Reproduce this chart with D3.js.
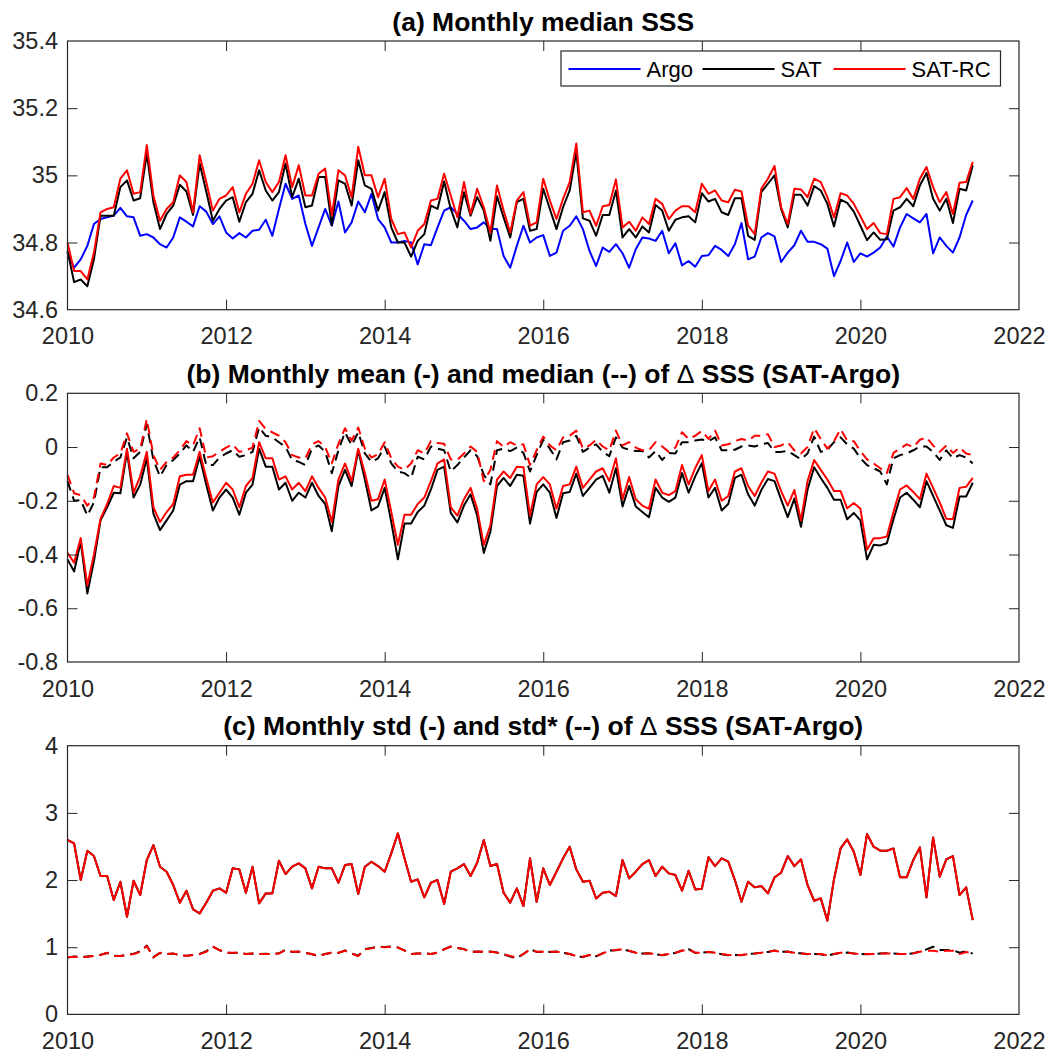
<!DOCTYPE html>
<html>
<head>
<meta charset="utf-8">
<script src="https://cdn.jsdelivr.net/npm/d3@7"></script>
<style>
  html, body { margin: 0; padding: 0; background: #fff; }
  svg { display: block; font-family: "Liberation Sans", Arial, Helvetica, sans-serif; }
</style>
</head>
<body>
<svg id="chart" width="1051" height="1055"></svg>
<script>
// ---------------------------------------------------------------------------
// Data: monthly values, Jan 2010 .. Jun 2021
// ---------------------------------------------------------------------------

const START_YEAR = 2010;

// (a) monthly median SSS
const argo = [
  34.77, 34.725, 34.75, 34.79, 34.855, 34.87, 34.875, 34.88, 34.903, 34.878, 34.875, 34.82,
  34.825, 34.815, 34.795, 34.785, 34.815, 34.875, 34.862, 34.848, 34.908, 34.892, 34.855, 34.878,
  34.83, 34.812, 34.828, 34.815, 34.835, 34.838, 34.868, 34.82, 34.90, 34.975, 34.93, 34.94,
  34.855, 34.79, 34.845, 34.90, 34.85, 34.922, 34.83, 34.86, 34.922, 34.89, 34.945, 34.87,
  34.845, 34.80, 34.80, 34.805, 34.80, 34.735, 34.795, 34.792, 34.845, 34.895, 34.905, 34.885,
  34.865, 34.84, 34.845, 34.86, 34.84, 34.84, 34.76, 34.725, 34.79, 34.85, 34.80, 34.815,
  34.822, 34.76, 34.77, 34.835, 34.85, 34.878, 34.84, 34.775, 34.73, 34.785, 34.772, 34.795,
  34.768, 34.725, 34.78, 34.815, 34.812, 34.805, 34.835, 34.768, 34.798, 34.732, 34.745, 34.728,
  34.76, 34.762, 34.79, 34.778, 34.76, 34.795, 34.858, 34.75, 34.758, 34.815, 34.828, 34.818,
  34.742, 34.77, 34.792, 34.835, 34.802, 34.802, 34.795, 34.782, 34.70, 34.745, 34.80, 34.742,
  34.768, 34.758, 34.77, 34.785, 34.818, 34.788, 34.845, 34.885, 34.872, 34.86, 34.885, 34.768,
  34.815, 34.79, 34.77, 34.815, 34.882, 34.925
];
const sat = [
  34.775, 34.682, 34.69, 34.67, 34.75, 34.88, 34.88, 34.88, 34.965, 34.985, 34.925, 34.932,
  35.065, 34.92, 34.84, 34.885, 34.91, 34.972, 34.952, 34.882, 35.035, 34.952, 34.865, 34.90,
  34.925, 34.935, 34.862, 34.92, 34.945, 35.015, 34.955, 34.925, 34.95, 35.035, 34.935, 34.99,
  34.905, 34.91, 34.995, 34.995, 34.852, 34.985, 34.975, 34.91, 35.045, 34.97, 34.96, 34.895,
  34.95, 34.845, 34.80, 34.80, 34.758, 34.805, 34.825, 34.91, 34.90, 34.982, 34.90, 34.845,
  34.95, 34.88, 34.935, 34.895, 34.805, 34.938, 34.875, 34.815, 34.92, 34.93, 34.835, 34.84,
  34.96, 34.90, 34.84, 34.905, 34.955, 35.07, 34.872, 34.865, 34.82, 34.882, 34.882, 34.955,
  34.815, 34.84, 34.815, 34.848, 34.83, 34.912, 34.895, 34.835, 34.868, 34.875, 34.878, 34.86,
  34.947, 34.922, 34.93, 34.89, 34.882, 34.932, 34.932, 34.82, 34.808, 34.95, 34.975, 35.00,
  34.90, 34.845, 34.942, 34.942, 34.91, 34.968, 34.955, 34.915, 34.848, 34.928, 34.918, 34.892,
  34.85, 34.807, 34.83, 34.808, 34.81, 34.895, 34.905, 34.93, 34.908, 34.97, 35.007, 34.93,
  34.895, 34.93, 34.858, 34.96, 34.955, 35.03
];
const satRC = [
  34.80, 34.715, 34.715, 34.69, 34.77, 34.89, 34.90, 34.905, 34.99, 35.015, 34.945, 34.95,
  35.09, 34.94, 34.865, 34.90, 34.92, 35.00, 34.98, 34.89, 35.06, 34.98, 34.895, 34.93,
  34.94, 34.965, 34.89, 34.945, 34.975, 35.045, 34.98, 34.95, 34.98, 35.06, 34.965, 35.03,
  34.94, 34.94, 35.005, 35.02, 34.88, 35.015, 35.00, 34.935, 35.085, 35.00, 35.00, 34.935,
  34.99, 34.87, 34.825, 34.83, 34.785, 34.835, 34.855, 34.925, 34.93, 35.005, 34.94, 34.875,
  34.98, 34.885, 34.96, 34.905, 34.83, 34.97, 34.895, 34.83, 34.925, 34.95, 34.85, 34.86,
  34.99, 34.925, 34.87, 34.93, 34.98, 35.095, 34.89, 34.895, 34.85, 34.908, 34.912, 34.988,
  34.845, 34.862, 34.835, 34.875, 34.855, 34.93, 34.915, 34.87, 34.895, 34.908, 34.908, 34.89,
  34.975, 34.945, 34.955, 34.925, 34.92, 34.957, 34.952, 34.85, 34.825, 34.96, 34.99, 35.028,
  34.905, 34.855, 34.96, 34.958, 34.935, 34.99, 34.98, 34.935, 34.875, 34.947, 34.94, 34.915,
  34.878, 34.84, 34.858, 34.828, 34.825, 34.93, 34.935, 34.962, 34.93, 34.99, 35.025, 34.965,
  34.92, 34.95, 34.885, 34.978, 34.98, 35.04
];

// (b) monthly mean / median of delta SSS
const satMean = [
  -0.418, -0.463, -0.352, -0.545, -0.424, -0.273, -0.224, -0.170, -0.172, -0.018, -0.188, -0.140,
  -0.042, -0.248, -0.309, -0.273, -0.236, -0.140, -0.127, -0.127, -0.036, -0.140, -0.236, -0.188,
  -0.158, -0.188, -0.252, -0.170, -0.140, -0.006, -0.073, -0.073, -0.158, -0.133, -0.200, -0.170,
  -0.188, -0.133, -0.182, -0.212, -0.313, -0.145, -0.085, -0.145, -0.012, -0.121, -0.236, -0.221,
  -0.152, -0.279, -0.418, -0.285, -0.285, -0.242, -0.218, -0.158, -0.085, -0.073, -0.245, -0.281,
  -0.218, -0.176, -0.255, -0.394, -0.315, -0.145, -0.115, -0.145, -0.103, -0.107, -0.285, -0.167,
  -0.139, -0.170, -0.264, -0.172, -0.167, -0.099, -0.182, -0.152, -0.121, -0.107, -0.170, -0.079,
  -0.221, -0.145, -0.221, -0.242, -0.261, -0.152, -0.188, -0.204, -0.188, -0.097, -0.170, -0.109,
  -0.060, -0.188, -0.152, -0.236, -0.212, -0.115, -0.103, -0.176, -0.218, -0.160, -0.119, -0.127,
  -0.196, -0.261, -0.192, -0.297, -0.158, -0.075, -0.115, -0.152, -0.196, -0.196, -0.269, -0.245,
  -0.273, -0.418, -0.364, -0.366, -0.358, -0.269, -0.188, -0.170, -0.196, -0.224, -0.127, -0.182,
  -0.236, -0.291, -0.301, -0.184, -0.184, -0.133
];
const rcMean = [
  -0.394, -0.430, -0.339, -0.515, -0.400, -0.267, -0.212, -0.145, -0.152, -0.006, -0.170, -0.109,
  -0.018, -0.224, -0.279, -0.242, -0.212, -0.109, -0.103, -0.103, -0.018, -0.115, -0.206, -0.170,
  -0.133, -0.158, -0.224, -0.145, -0.115, 0.018, -0.042, -0.042, -0.121, -0.109, -0.158, -0.133,
  -0.164, -0.109, -0.152, -0.188, -0.279, -0.121, -0.061, -0.127, -0.006, -0.097, -0.200, -0.194,
  -0.121, -0.242, -0.364, -0.252, -0.252, -0.212, -0.188, -0.127, -0.061, -0.046, -0.224, -0.255,
  -0.194, -0.152, -0.230, -0.364, -0.291, -0.121, -0.091, -0.115, -0.073, -0.075, -0.255, -0.139,
  -0.112, -0.139, -0.230, -0.145, -0.139, -0.073, -0.152, -0.121, -0.091, -0.079, -0.127, -0.042,
  -0.194, -0.112, -0.194, -0.218, -0.230, -0.121, -0.170, -0.179, -0.164, -0.067, -0.139, -0.078,
  -0.030, -0.164, -0.121, -0.200, -0.182, -0.091, -0.079, -0.145, -0.182, -0.133, -0.091, -0.099,
  -0.164, -0.218, -0.160, -0.273, -0.127, -0.048, -0.085, -0.121, -0.164, -0.164, -0.228, -0.208,
  -0.230, -0.382, -0.339, -0.339, -0.333, -0.242, -0.158, -0.143, -0.167, -0.194, -0.099, -0.152,
  -0.206, -0.267, -0.269, -0.152, -0.148, -0.115
];
const satMedian = [
  -0.127, -0.200, -0.197, -0.255, -0.206, -0.075, -0.075, -0.055, -0.039, 0.036, -0.042, -0.018,
  0.085, -0.048, -0.109, -0.067, -0.048, -0.024, 0.006, -0.018, 0.036, -0.067, -0.067, -0.039,
  -0.024, -0.012, -0.036, -0.030, -0.018, 0.073, 0.042, 0.036, 0.018, 0.000, -0.048, -0.055,
  -0.067, -0.006, 0.006, -0.018, -0.097, -0.012, 0.055, 0.006, 0.055, -0.024, -0.055, -0.042,
  0.002, -0.061, -0.091, -0.097, -0.115, -0.036, -0.046, 0.002, -0.006, -0.012, -0.091, -0.067,
  -0.039, -0.012, -0.034, -0.103, -0.139, -0.012, -0.006, -0.015, -0.002, -0.022, -0.091, -0.030,
  0.027, -0.006, -0.046, 0.018, 0.024, 0.042, -0.018, -0.002, 0.010, -0.018, -0.034, 0.036,
  -0.002, -0.010, -0.015, -0.015, -0.039, -0.015, -0.048, -0.022, -0.024, 0.018, 0.018, 0.024,
  0.028, 0.022, 0.036, -0.012, -0.012, -0.010, 0.002, 0.006, 0.002, 0.010, 0.015, -0.018,
  -0.018, -0.015, -0.030, -0.046, -0.024, 0.039, -0.018, -0.010, 0.018, 0.036, 0.010, -0.006,
  -0.042, -0.067, -0.079, -0.091, -0.139, -0.042, -0.030, -0.024, -0.012, 0.002, 0.002, -0.018,
  -0.048, -0.012, -0.042, -0.030, -0.039, -0.061
];
const rcMedian = [
  -0.103, -0.172, -0.179, -0.218, -0.188, -0.061, -0.067, -0.039, -0.024, 0.051, -0.018, -0.006,
  0.103, -0.030, -0.085, -0.055, -0.039, -0.012, 0.022, 0.006, 0.070, -0.039, -0.034, -0.018,
  -0.002, 0.010, -0.018, -0.012, -0.002, 0.097, 0.067, 0.055, 0.042, 0.018, -0.030, -0.039,
  -0.042, 0.010, 0.022, 0.000, -0.061, 0.012, 0.070, 0.024, 0.073, -0.006, -0.039, -0.027,
  0.018, -0.042, -0.073, -0.085, -0.061, -0.012, -0.024, 0.022, 0.015, 0.012, -0.046, -0.048,
  -0.024, 0.002, -0.018, -0.127, -0.085, 0.022, 0.000, 0.018, 0.006, 0.010, -0.067, -0.012,
  0.039, 0.006, -0.012, 0.036, 0.042, 0.061, -0.006, 0.006, 0.027, 0.002, -0.012, 0.061,
  0.006, 0.018, -0.002, -0.012, -0.012, 0.018, 0.002, -0.018, -0.002, 0.055, 0.030, 0.042,
  0.060, 0.030, 0.061, 0.006, 0.010, 0.022, 0.030, 0.024, 0.042, 0.042, 0.048, 0.000,
  0.006, 0.018, -0.012, -0.024, 0.000, 0.070, 0.030, -0.006, 0.022, 0.067, 0.024, 0.022,
  -0.015, -0.046, -0.061, -0.079, -0.097, -0.022, -0.006, 0.010, 0.000, 0.027, 0.036, 0.006,
  -0.018, 0.006, -0.022, -0.002, -0.024, -0.030
];

// (c) monthly std / std* of delta SSS
const rcStd = [
  2.596, 2.546, 2.000, 2.437, 2.357, 2.060, 2.060, 1.702, 1.975, 1.454, 1.990, 1.777,
  2.298, 2.521, 2.199, 2.124, 1.926, 1.663, 1.841, 1.563, 1.504, 1.663, 1.841, 1.876,
  1.811, 2.174, 2.159, 1.811, 2.199, 1.653, 1.801, 1.801, 2.288, 2.089, 2.199, 2.248,
  2.174, 1.876, 2.199, 2.174, 2.174, 1.960, 2.223, 2.238, 1.792, 2.199, 2.273, 2.208,
  2.124, 2.397, 2.695, 2.323, 1.975, 2.010, 1.742, 1.960, 2.000, 1.643, 2.124, 2.174,
  2.238, 2.060, 2.258, 2.596, 2.208, 2.238, 1.811, 1.663, 1.876, 1.613, 2.323, 1.677,
  2.174, 1.926, 2.124, 2.323, 2.496, 2.159, 1.975, 1.990, 1.727, 1.811, 1.826, 1.762,
  2.298, 2.025, 2.124, 2.238, 2.298, 2.060, 2.199, 2.099, 2.074, 1.841, 2.139, 1.861,
  1.870, 2.340, 2.208, 2.323, 2.273, 2.000, 1.677, 1.975, 1.891, 1.911, 1.801, 2.040,
  2.109, 2.357, 2.208, 2.308, 1.926, 1.692, 1.727, 1.395, 2.010, 2.471, 2.605, 2.422,
  2.074, 2.685, 2.496, 2.437, 2.437, 2.471, 2.040, 2.040, 2.298, 2.486, 1.742, 2.635,
  2.050, 2.308, 2.357, 1.777, 1.891, 1.404
];
// SAT std is the same as SAT-RC std (a bias shift does not change it)
const satStd = rcStd;
const rcStdStar = [
  0.849, 0.859, 0.849, 0.859, 0.869, 0.883, 0.918, 0.868, 0.868, 0.883, 0.898, 0.933,
  1.017, 0.849, 0.918, 0.898, 0.908, 0.883, 0.868, 0.883, 0.898, 0.933, 1.007, 0.958,
  0.918, 0.918, 0.918, 0.898, 0.908, 0.898, 0.898, 0.898, 0.908, 0.958, 0.933, 0.933,
  0.918, 0.898, 0.868, 0.898, 0.918, 0.918, 0.948, 0.908, 0.868, 0.968, 0.983, 1.007,
  1.000, 1.007, 0.998, 0.948, 0.898, 0.908, 0.908, 0.898, 0.918, 0.968, 1.007, 0.993,
  0.968, 0.933, 0.933, 0.933, 0.933, 0.923, 0.898, 0.868, 0.849, 0.898, 0.968, 0.933,
  0.933, 0.933, 0.933, 0.918, 0.898, 0.868, 0.859, 0.883, 0.868, 0.908, 0.948, 0.958,
  0.968, 0.948, 0.918, 0.908, 0.908, 0.898, 0.883, 0.898, 0.918, 0.948, 0.968, 0.918,
  0.918, 0.933, 0.918, 0.898, 0.883, 0.883, 0.883, 0.898, 0.908, 0.918, 0.933, 0.948,
  0.933, 0.933, 0.918, 0.908, 0.898, 0.898, 0.898, 0.878, 0.898, 0.918, 0.918, 0.908,
  0.898, 0.898, 0.898, 0.908, 0.908, 0.908, 0.898, 0.898, 0.908, 0.933, 0.948, 0.948,
  0.933, 0.948, 0.948, 0.898, 0.930, 0.908
];
const satStdStar = [
  0.845, 0.862, 0.852, 0.861, 0.872, 0.888, 0.915, 0.872, 0.870, 0.886, 0.902, 0.940,
  1.025, 0.852, 0.915, 0.900, 0.905, 0.886, 0.872, 0.886, 0.902, 0.940, 1.012, 0.955,
  0.920, 0.915, 0.920, 0.900, 0.905, 0.900, 0.902, 0.900, 0.910, 0.962, 0.930, 0.935,
  0.915, 0.895, 0.872, 0.900, 0.920, 0.915, 0.952, 0.905, 0.872, 0.972, 0.988, 1.012,
  1.002, 1.010, 0.995, 0.952, 0.900, 0.905, 0.910, 0.900, 0.920, 0.972, 1.012, 0.990,
  0.972, 0.930, 0.935, 0.930, 0.935, 0.920, 0.895, 0.860, 0.835, 0.900, 0.972, 0.930,
  0.935, 0.930, 0.935, 0.915, 0.900, 0.865, 0.855, 0.886, 0.865, 0.910, 0.952, 0.955,
  0.972, 0.945, 0.920, 0.905, 0.910, 0.895, 0.880, 0.900, 0.915, 0.952, 0.972, 0.915,
  0.920, 0.930, 0.920, 0.895, 0.880, 0.885, 0.880, 0.900, 0.905, 0.920, 0.930, 0.952,
  0.930, 0.935, 0.915, 0.910, 0.895, 0.900, 0.895, 0.875, 0.900, 0.915, 0.920, 0.905,
  0.900, 0.895, 0.900, 0.905, 0.910, 0.905, 0.900, 0.895, 0.910, 0.935, 0.968, 1.007,
  0.958, 0.958, 0.958, 0.918, 0.940, 0.905
];

// ticks and labels
const xTicks = [2010, 2012, 2014, 2016, 2018, 2020, 2022];
const xTickLabels = ['2010', '2012', '2014', '2016', '2018', '2020', '2022'];
const yTicksA = [34.6, 34.8, 35, 35.2, 35.4];
const yLabelsA = ['34.6', '34.8', '35', '35.2', '35.4'];
const yTicksB = [-0.8, -0.6, -0.4, -0.2, 0, 0.2];
const yLabelsB = ['-0.8', '-0.6', '-0.4', '-0.2', '0', '0.2'];
const yTicksC = [0, 1, 2, 3, 4];
const yLabelsC = ['0', '1', '2', '3', '4'];

const legendNames = ['Argo', 'SAT', 'SAT-RC'];
const legendColors = ['#0000ff', '#000000', '#ff0000'];

// ---------------------------------------------------------------------------
// Layout
// ---------------------------------------------------------------------------

const AX_LEFT = 67.5, AX_RIGHT = 1019, AX_H = 268.7;
const TICK_LEN = 10;
const AXIS_COLOR = '#262626';
const FONT_TICK = 23.5, FONT_TITLE = 26.5, FONT_LEGEND = 22;
const DASH = '10,6';

const svg = d3.select('#chart');
svg.append('rect').attr('width', 1051).attr('height', 1055).attr('fill', '#fff');

const time = d3.range(argo.length).map(i => START_YEAR + i / 12);
const x = d3.scaleLinear().domain([2010, 2022]).range([AX_LEFT, AX_RIGHT]);

function drawPanel(p) {
  const y = d3.scaleLinear().domain(p.yDomain).range([p.top + AX_H, p.top]);
  const g = svg.append('g');

  // series
  const line = vals => d3.line().x((d, i) => x(time[i])).y(d => y(d))(vals);
  p.series.forEach(s => {
    g.append('path')
      .attr('d', line(s.values))
      .attr('fill', 'none')
      .attr('stroke', s.color)
      .attr('stroke-width', 2)
      .attr('stroke-linejoin', 'round')
      .attr('stroke-dasharray', s.dashed ? DASH : null);
  });

  // axes (inward ticks, MATLAB style box)
  const fmtX = d => xTickLabels[xTicks.indexOf(d)];
  const fmtY = d => p.yLabels[p.yTicks.indexOf(d)];
  const xb = g.append('g').attr('transform', `translate(0,${p.top + AX_H})`)
    .call(d3.axisBottom(x).tickValues(xTicks).tickFormat(fmtX)
      .tickSizeInner(-TICK_LEN).tickSizeOuter(0).tickPadding(18));
  const xt = g.append('g').attr('transform', `translate(0,${p.top})`)
    .call(d3.axisTop(x).tickValues(xTicks).tickFormat('')
      .tickSizeInner(-TICK_LEN).tickSizeOuter(0));
  const yl = g.append('g').attr('transform', `translate(${AX_LEFT},0)`)
    .call(d3.axisLeft(y).tickValues(p.yTicks).tickFormat(fmtY)
      .tickSizeInner(-TICK_LEN).tickSizeOuter(0).tickPadding(9.5));
  const yr = g.append('g').attr('transform', `translate(${AX_RIGHT},0)`)
    .call(d3.axisRight(y).tickValues(p.yTicks).tickFormat('')
      .tickSizeInner(-TICK_LEN).tickSizeOuter(0));
  [xb, xt, yl, yr].forEach(a => {
    a.select('.domain').remove();
    a.selectAll('.tick line').attr('stroke', AXIS_COLOR).attr('stroke-width', 1);
    a.selectAll('text').attr('fill', AXIS_COLOR)
      .style('font-size', FONT_TICK + 'px')
      .style('font-family', '"Liberation Sans", Arial, Helvetica, sans-serif');
  });
  // hide the ticks that sit on the box edges
  [xb, xt].forEach(a => a.selectAll('.tick line').filter(d => d === 2010 || d === 2022).remove());
  [yl, yr].forEach(a => a.selectAll('.tick line')
    .filter(d => d === p.yDomain[0] || d === p.yDomain[1]).remove());

  g.append('rect')
    .attr('x', AX_LEFT).attr('y', p.top)
    .attr('width', AX_RIGHT - AX_LEFT).attr('height', AX_H)
    .attr('fill', 'none').attr('stroke', AXIS_COLOR).attr('stroke-width', 1.2);

  // title
  const t = g.append('text')
    .attr('x', (AX_LEFT + AX_RIGHT) / 2).attr('y', p.top - 10.5)
    .attr('text-anchor', 'middle').attr('font-weight', 'bold')
    .attr('font-size', FONT_TITLE).attr('fill', '#000');
  p.title.forEach(part => {
    t.append('tspan').attr('font-weight', part.normal ? 'normal' : 'bold').text(part.text);
  });
  return { g, y };
}

// ---------------------------------------------------------------------------
// Panels
// ---------------------------------------------------------------------------

const pa = drawPanel({
  top: 41,
  yDomain: [34.6, 35.4], yTicks: yTicksA, yLabels: yLabelsA,
  title: [{ text: '(a) Monthly median SSS' }],
  series: [
    { values: argo, color: legendColors[0] },
    { values: sat, color: legendColors[1] },
    { values: satRC, color: legendColors[2] },
  ],
});

drawPanel({
  top: 393.3,
  yDomain: [-0.8, 0.2], yTicks: yTicksB, yLabels: yLabelsB,
  title: [{ text: '(b) Monthly mean (-) and median (--) of ' }, { text: 'Δ', normal: true }, { text: ' SSS (SAT-Argo)' }],
  series: [
    { values: satMean, color: '#000' },
    { values: satMedian, color: '#000', dashed: true },
    { values: rcMean, color: '#ff0000' },
    { values: rcMedian, color: '#ff0000', dashed: true },
  ],
});

drawPanel({
  top: 745.7,
  yDomain: [0, 4], yTicks: yTicksC, yLabels: yLabelsC,
  title: [{ text: '(c) Monthly std (-) and std* (--) of ' }, { text: 'Δ', normal: true }, { text: ' SSS (SAT-Argo)' }],
  series: [
    { values: satStd, color: '#000' },
    { values: satStdStar, color: '#000', dashed: true },
    { values: rcStd, color: '#ff0000' },
    { values: rcStdStar, color: '#ff0000', dashed: true },
  ],
});

// ---------------------------------------------------------------------------
// Legend (panel a)
// ---------------------------------------------------------------------------

const lg = pa.g.append('g');
lg.append('rect')
  .attr('x', 561).attr('y', 51).attr('width', 439.5).attr('height', 35)
  .attr('fill', '#fff').attr('stroke', AXIS_COLOR).attr('stroke-width', 1.2);
const legendX = [568.5, 702.5, 833.5];
legendNames.forEach((name, i) => {
  lg.append('line')
    .attr('x1', legendX[i]).attr('x2', legendX[i] + 72)
    .attr('y1', 69).attr('y2', 69)
    .attr('stroke', legendColors[i]).attr('stroke-width', 2);
  lg.append('text')
    .attr('x', legendX[i] + 78).attr('y', 69).attr('dy', '0.35em')
    .attr('font-size', FONT_LEGEND).attr('fill', '#000')
    .text(name);
});
</script>
</body>
</html>
